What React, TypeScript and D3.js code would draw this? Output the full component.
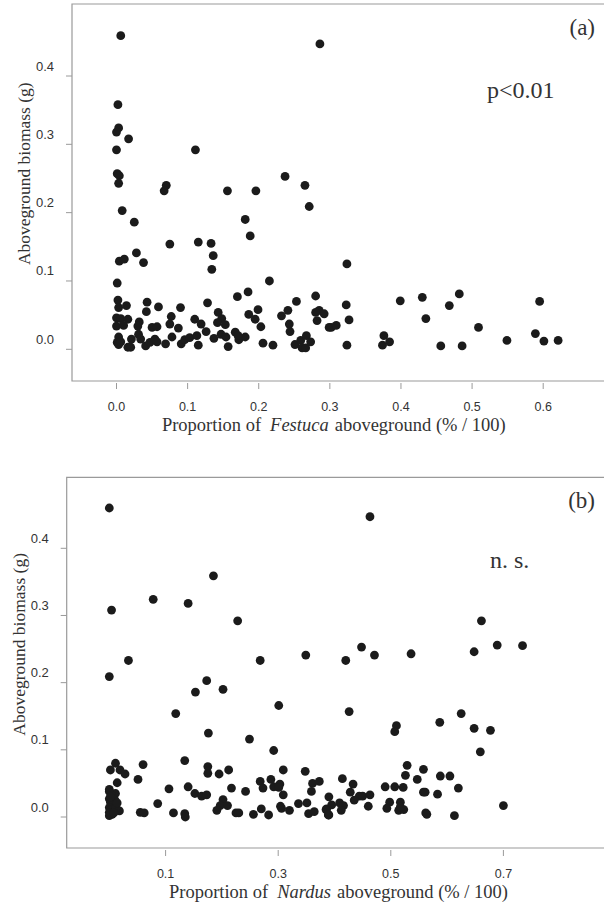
import React from 'react';
import * as d3 from 'd3';

// panel (a): proportion of Festuca vs aboveground biomass
const festucaPoints: [number, number][] = [
  [0.006, 0.459], [0.286, 0.447], [0.002, 0.358], [0.003, 0.324], [0.0, 0.318], [0.017, 0.308],
  [0.0, 0.292], [0.111, 0.292], [0.001, 0.257], [0.004, 0.254], [0.003, 0.243], [0.07, 0.24],
  [0.067, 0.232], [0.156, 0.232], [0.196, 0.232], [0.237, 0.253], [0.265, 0.24], [0.271, 0.209],
  [0.008, 0.203], [0.025, 0.186], [0.181, 0.19], [0.188, 0.166], [0.075, 0.154], [0.115, 0.157],
  [0.133, 0.155], [0.136, 0.137], [0.134, 0.117], [0.028, 0.141], [0.038, 0.127], [0.004, 0.129],
  [0.011, 0.132], [0.001, 0.097], [0.215, 0.1], [0.17, 0.077], [0.185, 0.084], [0.002, 0.072],
  [0.003, 0.061], [0.014, 0.064], [0.043, 0.069], [0.059, 0.062], [0.042, 0.055], [0.09, 0.061],
  [0.128, 0.068], [0.143, 0.054], [0.199, 0.058], [0.186, 0.051], [0.28, 0.078], [0.253, 0.07],
  [0.241, 0.057], [0.232, 0.049], [0.285, 0.057], [0.28, 0.054], [0.292, 0.052], [0.282, 0.042],
  [0.299, 0.032], [0.077, 0.048], [0.075, 0.037], [0.0, 0.046], [0.006, 0.045], [0.016, 0.044],
  [0.032, 0.04], [0.0, 0.034], [0.01, 0.035], [0.03, 0.034], [0.05, 0.032], [0.057, 0.033],
  [0.087, 0.031], [0.11, 0.044], [0.119, 0.037], [0.148, 0.045], [0.142, 0.039], [0.153, 0.036],
  [0.195, 0.044], [0.203, 0.033], [0.243, 0.037], [0.244, 0.026], [0.003, 0.018], [0.001, 0.01],
  [0.003, 0.007], [0.006, 0.011], [0.016, 0.003], [0.02, 0.003], [0.021, 0.015], [0.031, 0.022],
  [0.034, 0.015], [0.041, 0.005], [0.047, 0.01], [0.054, 0.015], [0.057, 0.011], [0.069, 0.008],
  [0.078, 0.018], [0.091, 0.008], [0.096, 0.014], [0.103, 0.017], [0.113, 0.02], [0.115, 0.006],
  [0.126, 0.026], [0.137, 0.016], [0.147, 0.022], [0.154, 0.018], [0.157, 0.004], [0.167, 0.025],
  [0.172, 0.014], [0.181, 0.018], [0.171, 0.02], [0.206, 0.009], [0.22, 0.006], [0.251, 0.007],
  [0.259, 0.013], [0.261, 0.002], [0.266, 0.002], [0.267, 0.02], [0.273, 0.011], [0.324, 0.125],
  [0.399, 0.071], [0.43, 0.076], [0.482, 0.081], [0.468, 0.064], [0.595, 0.07], [0.323, 0.065],
  [0.327, 0.043], [0.302, 0.032], [0.309, 0.035], [0.435, 0.045], [0.509, 0.032], [0.376, 0.02],
  [0.374, 0.006], [0.384, 0.011], [0.324, 0.006], [0.456, 0.005], [0.486, 0.005], [0.549, 0.013],
  [0.589, 0.023], [0.601, 0.012], [0.621, 0.013]
];

// panel (b): proportion of Nardus vs aboveground biomass
const nardusPoints: [number, number][] = [
  [0.0, 0.46], [0.004, 0.308], [0.078, 0.324], [0.14, 0.318], [0.185, 0.359], [0.228, 0.292],
  [0.034, 0.233], [0.268, 0.233], [0.349, 0.241], [0.463, 0.447], [0.661, 0.292], [0.448, 0.253],
  [0.471, 0.241], [0.42, 0.233], [0.536, 0.243], [0.648, 0.246], [0.689, 0.256], [0.734, 0.255],
  [0.0, 0.209], [0.173, 0.203], [0.153, 0.186], [0.202, 0.19], [0.301, 0.166], [0.118, 0.154],
  [0.176, 0.125], [0.249, 0.116], [0.292, 0.099], [0.134, 0.084], [0.011, 0.08], [0.002, 0.07],
  [0.019, 0.07], [0.028, 0.064], [0.06, 0.078], [0.051, 0.056], [0.014, 0.051], [0.175, 0.075],
  [0.175, 0.065], [0.195, 0.064], [0.212, 0.07], [0.309, 0.07], [0.348, 0.068], [0.268, 0.053],
  [0.287, 0.056], [0.273, 0.043], [0.292, 0.045], [0.303, 0.049], [0.301, 0.044], [0.309, 0.033],
  [0.361, 0.05], [0.373, 0.053], [0.359, 0.038], [0.39, 0.03], [0.106, 0.042], [0.14, 0.045],
  [0.152, 0.035], [0.164, 0.031], [0.173, 0.033], [0.217, 0.043], [0.242, 0.038], [0.202, 0.026],
  [0.197, 0.017], [0.21, 0.017], [0.191, 0.01], [0.225, 0.006], [0.23, 0.006], [0.086, 0.02],
  [0.055, 0.007], [0.062, 0.006], [0.114, 0.006], [0.134, 0.005], [0.135, 0.0], [0.256, 0.004],
  [0.27, 0.012], [0.283, 0.003], [0.304, 0.016], [0.306, 0.013], [0.32, 0.01], [0.336, 0.02],
  [0.351, 0.021], [0.354, 0.005], [0.364, 0.008], [0.386, 0.012], [0.39, 0.003],
  [0.0, 0.041], [0.011, 0.035], [0.018, 0.009], [0.01, 0.025], [0.0, 0.038], [0.004, 0.032],
  [0.0, 0.027], [0.002, 0.022], [0.006, 0.018], [0.0, 0.014], [0.003, 0.011], [0.0, 0.007],
  [0.005, 0.004], [0.0, 0.002], [0.012, 0.014], [0.008, 0.006], [0.014, 0.021], [0.002, 0.03],
  [0.426, 0.157], [0.625, 0.154], [0.587, 0.141], [0.51, 0.136], [0.507, 0.127], [0.648, 0.132],
  [0.677, 0.129], [0.659, 0.097], [0.529, 0.077], [0.558, 0.071], [0.526, 0.062], [0.547, 0.056],
  [0.588, 0.061], [0.605, 0.061], [0.62, 0.043], [0.414, 0.057], [0.433, 0.049], [0.428, 0.037],
  [0.444, 0.031], [0.45, 0.031], [0.463, 0.033], [0.435, 0.025], [0.49, 0.045], [0.507, 0.045],
  [0.522, 0.044], [0.558, 0.037], [0.561, 0.037], [0.583, 0.034], [0.395, 0.018], [0.385, 0.011],
  [0.389, 0.003], [0.409, 0.021], [0.416, 0.017], [0.412, 0.01], [0.46, 0.016], [0.498, 0.022],
  [0.493, 0.013], [0.517, 0.022], [0.514, 0.01], [0.523, 0.011], [0.517, 0.015], [0.562, 0.006],
  [0.564, 0.004], [0.613, 0.002], [0.7, 0.017]
];

const festucaXTicks = [0, 0.1, 0.2, 0.3, 0.4, 0.5, 0.6];
const nardusXTicks = [0.1, 0.3, 0.5, 0.7];
const biomassTicks = [0, 0.1, 0.2, 0.3, 0.4];

const serif = '"Liberation Serif", "Times New Roman", serif';
const sans = '"Liberation Sans", Arial, sans-serif';
const axisColor = '#9a9a9a';
const textColor = '#333';

function Panel(props: any) {
  const { points, xTicks, xDomain, xRange, yRange, box, tag, note, notePos, species } = props;
  const x = d3.scaleLinear().domain(xDomain).range(xRange);
  const y = d3.scaleLinear().domain([0, 0.4]).range(yRange);
  const fmt = d3.format('.1f');

  return (
    <g>
      {/* open box: left, top, bottom */}
      <path d={`M${box.right},${box.top}H${box.left}V${box.bottom}H${box.right}`}
            fill="none" stroke={axisColor} strokeWidth={1.2}/>
      {xTicks.map((t: number) => (
        <g key={'x' + t}>
          <line x1={x(t)} x2={x(t)} y1={box.bottom + 2} y2={box.bottom + 8} stroke={axisColor}/>
          <text x={x(t)} y={box.bottom + 30} textAnchor="middle" fontFamily={sans}
                fontSize={12.5} fill={textColor}>{fmt(t)}</text>
        </g>
      ))}
      {biomassTicks.map(t => (
        <g key={'y' + t}>
          <line x1={box.left - 6} x2={box.left} y1={y(t)} y2={y(t)} stroke={axisColor}/>
          <text x={box.left - 27} y={y(t) - 5.5} textAnchor="middle" fontFamily={sans}
                fontSize={13} fill={textColor}>{fmt(t)}</text>
        </g>
      ))}
      {points.map((p: [number, number], i: number) => (
        <circle key={i} cx={x(p[0])} cy={y(p[1])} r={4.4} fill="#1b1b1b"/>
      ))}
      <text transform={`translate(${box.left - 42},${y(0.257)}) rotate(-90)`}
            textAnchor="middle" fontFamily={serif} fontSize={17.5} fill={textColor}>
        Aboveground biomass (g)
      </text>
      <text x={(xRange[0] + xRange[1]) / 2 + 4} y={box.bottom + 50}
            textAnchor="middle" fontFamily={serif} fontSize={18.5} fill={textColor}>
        Proportion of<tspan fontStyle="italic" dx={9}>{species}</tspan>
        <tspan dx={6}>aboveground (% / 100)</tspan>
      </text>
      <text x={595} y={box.top + 31} textAnchor="end" fontFamily={serif} fontSize={23} fill={textColor}>{tag}</text>
      <text x={notePos[0]} y={notePos[1]} fontFamily={serif} fontSize={24} fill={textColor}>{note}</text>
    </g>
  );
}

export default function App() {
  return (
    <svg width={605} height={905} style={{ position: 'absolute', left: 0, top: 0, background: '#fff' }}>
      <rect width={605} height={905} fill="#fff"/>
      <Panel points={festucaPoints} xTicks={festucaXTicks} xDomain={[0, 0.6]} xRange={[116.5, 543.2]}
             yRange={[349.3, 76]} box={{ left: 72, top: 4, bottom: 381, right: 604 }}
             tag="(a)" note="p<0.01" notePos={[487, 98]} species="Festuca"/>
      <Panel points={nardusPoints} xTicks={nardusXTicks} xDomain={[0.1, 0.7]} xRange={[165.6, 503.4]}
             yRange={[817, 548.3]} box={{ left: 66.7, top: 477.3, bottom: 848, right: 604 }}
             tag="(b)" note="n. s." notePos={[490, 568]} species="Nardus"/>
    </svg>
  );
}
